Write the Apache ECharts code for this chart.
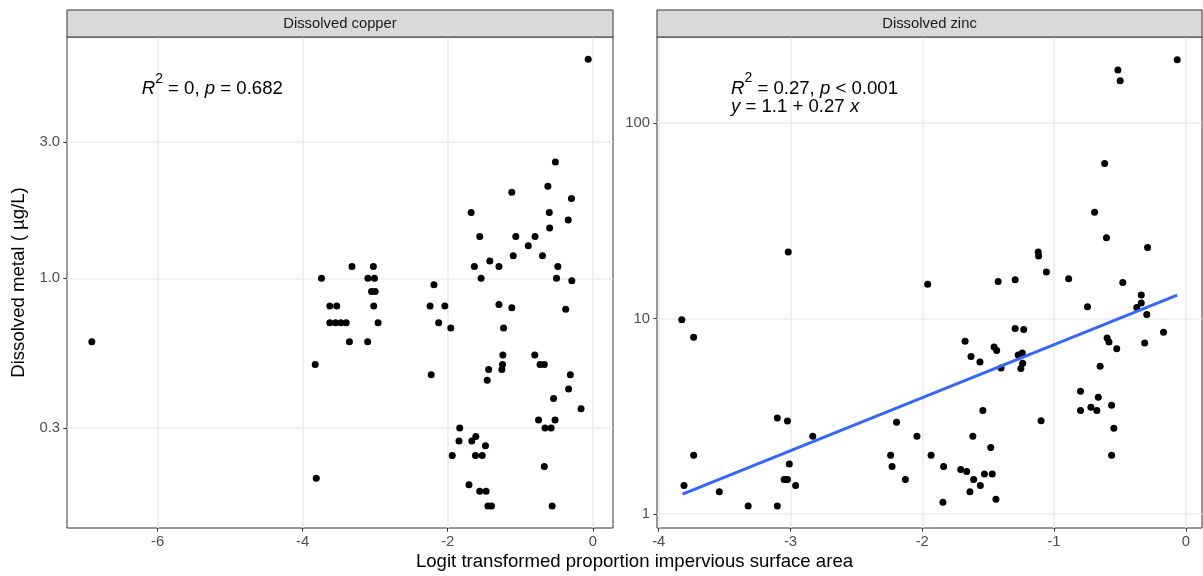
<!DOCTYPE html>
<html>
<head>
<meta charset="utf-8">
<script src="https://cdn.jsdelivr.net/npm/echarts@6/dist/echarts.min.js"></script>
<style>html,body{margin:0;padding:0;background:#fff}#c{width:1203px;height:576px}</style>
</head>
<body>
<div id="c"></div>
<script>
// ---- data ----
const copperX = [-0.064,-0.516,-0.62,-1.117,-0.295,-1.677,-0.60,-0.339,-0.595,-1.559,-1.062,-0.797,-0.89,-1.097,-0.694,-1.42,-1.633,-1.294,-0.482,-3.32,-3.025,-3.74,-3.10,-3.01,-1.54,-0.50,-0.29,-2.19,-3.05,-3.00,-3.625,-3.53,-3.02,-2.243,-2.04,-1.294,-1.117,-0.374,-3.625,-3.547,-3.473,-3.40,-2.96,-2.125,-1.958,-1.23,-6.906,-3.355,-3.104,-1.24,-0.80,-3.827,-0.728,-0.669,-1.245,-1.254,-1.436,-2.228,-0.31,-1.456,-0.334,-0.541,-0.162,-0.748,-0.521,-1.835,-0.659,-0.575,-1.613,-1.668,-1.845,-1.48,-1.938,-1.618,-1.525,-0.669,-3.812,-1.707,-1.559,-1.471,-1.446,-1.397,-0.561];
const copperY = [5.83,2.55,2.10,2.0,1.90,1.70,1.70,1.60,1.50,1.40,1.40,1.40,1.30,1.20,1.20,1.15,1.10,1.10,1.10,1.10,1.10,1.0,1.0,1.0,1.0,1.0,0.98,0.95,0.90,0.90,0.80,0.80,0.80,0.80,0.80,0.81,0.79,0.78,0.70,0.70,0.70,0.70,0.70,0.70,0.67,0.67,0.60,0.60,0.60,0.54,0.54,0.50,0.50,0.50,0.50,0.48,0.48,0.46,0.46,0.44,0.41,0.38,0.35,0.32,0.32,0.30,0.30,0.30,0.28,0.27,0.27,0.26,0.24,0.24,0.24,0.22,0.20,0.19,0.18,0.18,0.16,0.16,0.16];
const zincX = [-0.065,-0.515,-0.498,-0.616,-0.692,-0.602,-0.29,-3.017,-1.12,-1.117,-1.058,-0.889,-1.424,-1.295,-1.959,-0.478,-0.338,-0.338,-0.372,-0.746,-0.296,-3.825,-3.735,-1.295,-1.23,-0.169,-1.675,-0.597,-0.583,-0.312,-1.455,-1.435,-0.524,-1.63,-1.272,-1.241,-1.562,-1.238,-1.252,-1.402,-0.65,-0.799,-0.664,-0.563,-0.799,-0.72,-0.675,-1.54,-3.10,-3.023,-1.098,-2.195,-0.546,-2.831,-2.04,-1.616,-1.48,-3.735,-2.24,-0.563,-1.933,-3.009,-2.229,-1.838,-1.708,-1.663,-1.528,-1.469,-3.808,-3.048,-3.023,-2.961,-2.128,-1.61,-1.559,-3.54,-1.638,-1.441,-1.843,-3.321,-3.10];
const zincY = [211,187,165,62.2,35,25.9,23.1,21.9,21.9,20.9,17.3,16.0,15.5,15.8,15.0,15.3,13.2,12.0,11.4,11.5,10.5,9.85,8.02,8.89,8.79,8.51,7.65,7.96,7.60,7.50,7.16,6.86,7.0,6.39,6.52,6.67,6.0,5.91,5.55,5.59,5.70,4.25,3.96,3.60,3.39,3.52,3.39,3.39,3.10,2.99,3.0,2.95,2.75,2.50,2.50,2.50,2.19,2.0,2.0,2.0,2.0,1.80,1.75,1.75,1.69,1.65,1.60,1.60,1.40,1.50,1.50,1.40,1.50,1.50,1.40,1.30,1.30,1.19,1.15,1.10,1.10];
const zincFitX = [-3.819, -0.065];
const zincFitY = [1.264, 13.2];
const panelTitles = ['Dissolved copper', 'Dissolved zinc'];
const copperXTicks = [-6, -4, -2, 0];
const zincXTicks = [-4, -3, -2, -1, 0];
const copperYTicks = [0.3, 1, 3];
const zincYTicks = [1, 10, 100];
const xTitle = 'Logit transformed proportion impervious surface area';
const yTitle = 'Dissolved metal ( µg/L)';

const FF = '"Liberation Sans", Arial, sans-serif';
const pairs = (xs, ys) => xs.map((x, i) => [x, ys[i]]);

function xAxis(grid, min, max, ticks) {
  return {
    type: 'value', gridIndex: grid, min: min, max: max, position: 'bottom',
    axisLine: { show: false, onZero: false },
    axisTick: { show: true, inside: false, length: 3.7, lineStyle: { color: '#333333', width: 1 }, customValues: ticks },
    axisLabel: { color: '#4D4D4D', fontSize: 14.8, fontFamily: FF, margin: 6, customValues: ticks },
    splitLine: { show: true, lineStyle: { color: '#EBEBEB', width: 1.5 } },
    minorSplitLine: { show: false }
  };
}
function yAxis(grid, min, max, ticks, fmt) {
  return {
    type: 'log', logBase: 10, gridIndex: grid, min: min, max: max, position: 'left',
    axisLine: { show: false, onZero: false },
    axisTick: { show: true, inside: false, length: 3.7, lineStyle: { color: '#333333', width: 1 }, customValues: ticks },
    axisLabel: { color: '#4D4D4D', fontSize: 14.8, fontFamily: FF, margin: 7, customValues: ticks, formatter: fmt },
    splitLine: { show: true, lineStyle: { color: '#EBEBEB', width: 1.5 } }
  };
}

const chart = echarts.init(document.getElementById('c'), null, { renderer: 'canvas' });
const gridL = { left: 67, top: 37, width: 546, height: 491 };
const gridR = { left: 657, top: 37, width: 545, height: 491 };

const option = {
  animation: false,
  backgroundColor: '#ffffff',
  grid: [
    Object.assign({ show: true, backgroundColor: '#fff', borderColor: '#333333', borderWidth: 1 }, gridL),
    Object.assign({ show: true, backgroundColor: '#fff', borderColor: '#333333', borderWidth: 1 }, gridR)
  ],
  xAxis: [
    xAxis(0, -7.248, 0.278, copperXTicks),
    xAxis(1, -4.013, 0.123, zincXTicks)
  ],
  yAxis: [
    yAxis(0, 0.1340, 6.98, copperYTicks, v => Number(v).toFixed(1)),
    yAxis(1, 0.848, 276, zincYTicks, v => String(Math.round(v)))
  ],
  series: [
    { type: 'scatter', xAxisIndex: 0, yAxisIndex: 0, data: pairs(copperX, copperY), symbol: 'circle', symbolSize: 7,
      itemStyle: { color: '#000000', opacity: 1 }, z: 3 },
    { type: 'scatter', xAxisIndex: 1, yAxisIndex: 1, data: pairs(zincX, zincY), symbol: 'circle', symbolSize: 7,
      itemStyle: { color: '#000000', opacity: 1 }, z: 3 },
    { type: 'line', xAxisIndex: 1, yAxisIndex: 1, data: pairs(zincFitX, zincFitY), showSymbol: false, symbol: 'none',
      lineStyle: { color: '#3366FF', width: 3 }, z: 4, silent: true }
  ],
  graphic: []
};

const g = option.graphic;
[gridL, gridR].forEach((gr, i) => {
  g.push({ type: 'rect', shape: { x: gr.left, y: 10, width: gr.width, height: gr.top - 10 },
    style: { fill: '#D9D9D9', stroke: '#333333', lineWidth: 1 }, z: 10 });
  g.push({ type: 'text', x: gr.left + gr.width / 2, y: 23.5, z: 11,
    style: { text: panelTitles[i], fill: '#1A1A1A', font: '14.8px ' + FF, align: 'center', verticalAlign: 'middle',
      textAlign: 'center', textVerticalAlign: 'middle' } });
});
// axis titles
g.push({ type: 'text', x: gridL.left + (gridR.left + gridR.width - gridL.left) / 2, y: 561.5, z: 11,
  style: { text: xTitle, fill: '#000', font: '18.6px ' + FF, align: 'center', verticalAlign: 'middle',
    textAlign: 'center', textVerticalAlign: 'middle' } });
g.push({ type: 'text', x: 19, y: gridL.top + gridL.height / 2, rotation: Math.PI / 2, z: 11,
  style: { text: yTitle, fill: '#000', font: '18.6px ' + FF, align: 'center', verticalAlign: 'middle',
    textAlign: 'center', textVerticalAlign: 'middle' } });

// annotation labels
const richStyles = {
  i: { fontStyle: 'italic', fontSize: 18.6, fontFamily: FF, fill: '#000', lineHeight: 27, verticalAlign: 'bottom' },
  n: { fontSize: 18.6, fontFamily: FF, fill: '#000', lineHeight: 27, verticalAlign: 'bottom' },
  s: { fontSize: 14, fontFamily: FF, fill: '#000', lineHeight: 27, verticalAlign: 'top' }
};
function ann(x, yTop, txt) {
  g.push({ type: 'text', x: x, y: yTop, z: 12,
    style: { text: txt, rich: richStyles, align: 'left', verticalAlign: 'top', textAlign: 'left', textVerticalAlign: 'top',
      font: '18.6px ' + FF, fill: '#000' } });
}
ann(141.7, 71.8, '{i|R}{s|2}{n| = 0, }{i|p}{n| = 0.682}');
ann(731, 71.1, '{i|R}{s|2}{n| = 0.27, }{i|p}{n| < 0.001}');
ann(731, 89.1, '{i|y}{n| = 1.1 + 0.27 }{i|x}');

chart.setOption(option);
</script>
</body>
</html>
